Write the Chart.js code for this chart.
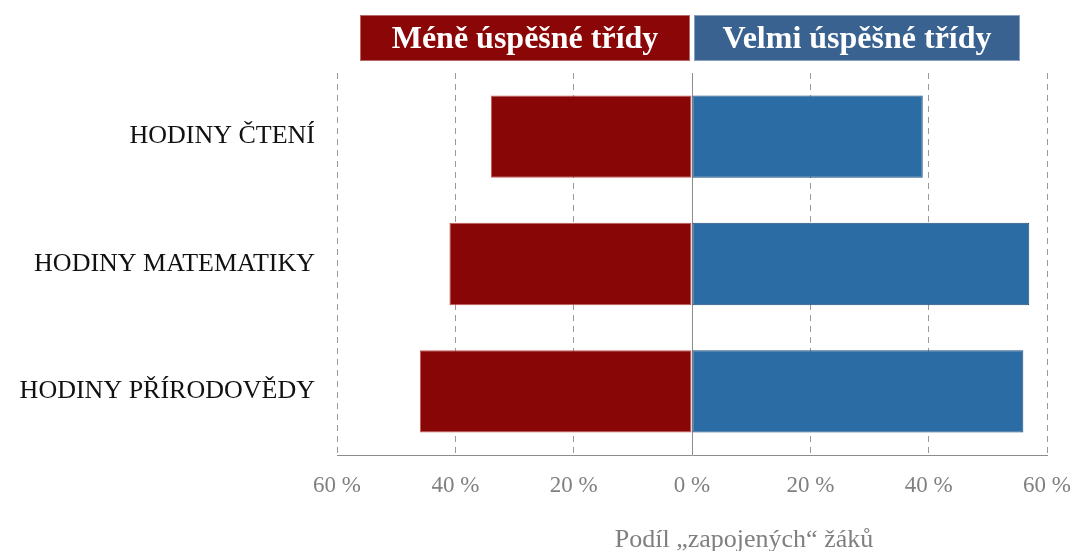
<!DOCTYPE html>
<html>
<head>
<meta charset="utf-8">
<script src="https://cdn.jsdelivr.net/npm/chart.js@4"></script>
<style>
  html, body { margin: 0; padding: 0; background: #fff; }
  #box { width: 1078px; height: 551px; }
</style>
</head>
<body>
<div id="box"><canvas id="barChart"></canvas></div>
<script>
// data
const kategorie = ['HODINY ČTENÍ', 'HODINY MATEMATIKY', 'HODINY PŘÍRODOVĚDY'];
const meneUspesne = [34, 41, 46];   // vlevo
const velmiUspesne = [39, 57, 56];  // vpravo
const popisky = ['Méně úspěšné třídy', 'Velmi úspěšné třídy'];
const nazevOsy = 'Podíl „zapojených“ žáků';

const serif = '"Liberation Serif", "Times New Roman", serif';

// hlavicky, nulova cara a nazev osy
const doplnky = {
    id: 'doplnky',
    beforeDatasetsDraw(chart) {
        const ctx = chart.ctx;
        const x = chart.scales.x;
        const area = chart.chartArea;
        const x0 = x.getPixelForValue(0);
        ctx.save();
        ctx.strokeStyle = '#8c8c8c';
        ctx.lineWidth = 1;
        ctx.beginPath();
        ctx.moveTo(Math.round(x0) + 0.5, area.top);
        ctx.lineTo(Math.round(x0) + 0.5, area.bottom);
        ctx.stroke();
        ctx.restore();
    },
    afterDraw(chart) {
        const ctx = chart.ctx;
        ctx.save();
        // hlavicky
        const boxy = [
            { x: 360, w: 330, barva: '#8b0606', text: popisky[0] },
            { x: 694, w: 326, barva: '#3a6291', text: popisky[1] }
        ];
        boxy.forEach(b => {
            ctx.fillStyle = b.barva;
            ctx.fillRect(b.x, 15, b.w, 46);
            ctx.strokeStyle = 'rgba(255,255,255,0.4)';
            ctx.strokeRect(b.x + 0.5, 15.5, b.w - 1, 45);
            ctx.fillStyle = '#ffffff';
            ctx.font = 'bold 32px ' + serif;
            ctx.textAlign = 'center';
            ctx.textBaseline = 'alphabetic';
            ctx.fillText(b.text, b.x + b.w / 2, 48);
        });
        // nazev osy
        ctx.fillStyle = '#7f7f7f';
        ctx.font = '26px ' + serif;
        ctx.textAlign = 'center';
        ctx.textBaseline = 'alphabetic';
        ctx.fillText(nazevOsy, 744, 547);
        ctx.restore();
    }
};

const ctx = document.getElementById('barChart').getContext('2d');
const graf = new Chart(ctx, {
    type: 'bar',
    data: {
        labels: kategorie,
        datasets: [{
            label: popisky[0],
            data: meneUspesne.map(v => -v),
            backgroundColor: '#880606',
            borderColor: '#c25a5a',
            borderWidth: 1,
            borderSkipped: false,
            barPercentage: 0.646,
            categoryPercentage: 1
        }, {
            label: popisky[1],
            data: velmiUspesne,
            backgroundColor: '#2c6ca5',
            borderColor: '#1f4e79',
            borderWidth: 1,
            borderSkipped: false,
            barPercentage: 0.646,
            categoryPercentage: 1
        }]
    },
    options: {
        indexAxis: 'y',
        responsive: true,
        maintainAspectRatio: false,
        animation: false,
        layout: { padding: { top: 73, right: 31, left: 0, bottom: 0 } },
        plugins: {
            legend: { display: false },
            tooltip: { enabled: false }
        },
        scales: {
            x: {
                stacked: true,
                min: -60,
                max: 60,
                ticks: {
                    stepSize: 20,
                    padding: 17,
                    color: '#808080',
                    font: { family: serif, size: 23 },
                    callback: v => Math.abs(v) + ' %'
                },
                grid: {
                    drawTicks: false,
                    color: c => (c.tick && c.tick.value === 0) ? 'rgba(0,0,0,0)' : '#9a9a9a',
                    lineWidth: 1
                },
                border: { display: true, color: '#8c8c8c', dash: [6, 5] },
                afterFit: s => {
                    s.height = 96;
                    s.paddingLeft = 0;
                    s.paddingRight = 0;
                }
            },
            y: {
                stacked: true,
                ticks: {
                    padding: 22,
                    color: '#111111',
                    font: { family: serif, size: 26 }
                },
                grid: { display: false, drawTicks: false },
                border: { display: false },
                afterFit: s => { s.width = 337; }
            }
        }
    },
    plugins: [doplnky]
});
</script>
</body>
</html>
